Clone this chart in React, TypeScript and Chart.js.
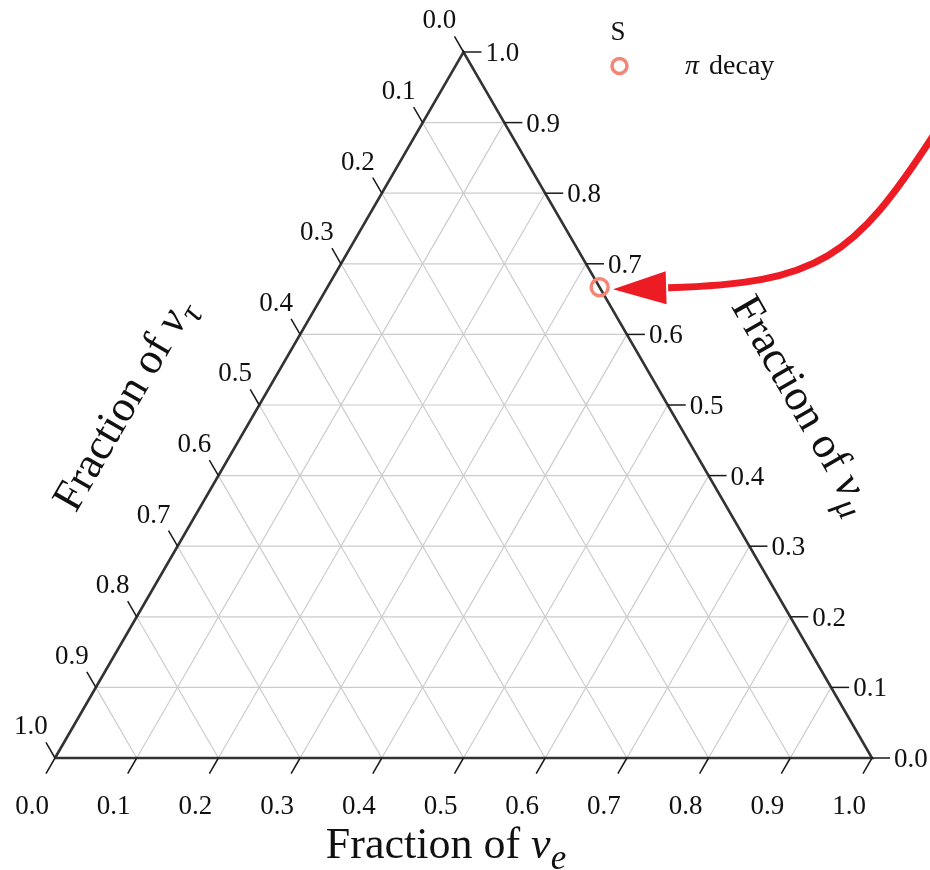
import React, { useEffect, useRef } from "react";
import { Chart, registerables } from "chart.js";

Chart.register(...registerables);

// ---- data ----
const tickValues = [0, 0.1, 0.2, 0.3, 0.4, 0.5, 0.6, 0.7, 0.8, 0.9, 1.0];
const tickLabels = ["0.0", "0.1", "0.2", "0.3", "0.4", "0.5", "0.6", "0.7", "0.8", "0.9", "1.0"];
const gridValues = [0.1, 0.2, 0.3, 0.4, 0.5, 0.6, 0.7, 0.8, 0.9];
const legendTitle = "S";
const seriesName = "decay";
const seriesSymbol = "π";
const pointNuE = [1 / 3];
const pointNuMu = [2 / 3];
const titleBottomSub = "e";
const titleLeftSub = "τ";
const titleRightSub = "μ";
// arrow path (cubic Bézier) in plot coordinates
const arrowX = [1.077, 0.978, 0.935, 0.748];
const arrowY = [0.885, 0.708, 0.672, 0.666];
const arrowTipX = 0.683;
const arrowTipY = 0.664;

const FONT = '"Liberation Serif", "DejaVu Serif", serif';
const SALMON = "rgb(243,134,118)";
const TICK_FONT = 27;
const TITLE_FONT = 44;

// ternary (nu_e, nu_mu) -> plot coordinates
const toXY = (e: number, mu: number) => ({ x: e + mu / 2, y: mu });

function drawRichTitle(ctx: CanvasRenderingContext2D, x: number, y: number, angle: number, sub: string, size: number) {
  ctx.save();
  ctx.translate(x, y);
  ctx.rotate(angle);
  const main = "Fraction of ";
  const fMain = `${size}px ${FONT}`;
  const fIt = `italic ${size}px ${FONT}`;
  const subSize = Math.round(size * 0.8);
  const fSub = `italic ${subSize}px ${FONT}`;
  ctx.font = fMain;
  const w1 = ctx.measureText(main).width;
  ctx.font = fIt;
  const w2 = ctx.measureText("ν").width;
  ctx.font = fSub;
  const w3 = ctx.measureText(sub).width;
  const total = w1 + w2 + w3;
  let cx = -total / 2;
  ctx.textBaseline = "alphabetic";
  ctx.textAlign = "left";
  ctx.fillStyle = "#111";
  ctx.font = fMain;
  ctx.fillText(main, cx, 0);
  cx += w1;
  ctx.font = fIt;
  ctx.fillText("ν", cx, 0);
  cx += w2;
  ctx.font = fSub;
  ctx.fillText(sub, cx, size * 0.24);
  ctx.restore();
}

const ternaryPlugin = {
  id: "ternaryDecor",
  afterDatasetsDraw(chart: any) {
    const ctx: CanvasRenderingContext2D = chart.ctx;
    const xs = chart.scales.x;
    const ys = chart.scales.y;
    const px = (p: { x: number; y: number }) => ({ x: xs.getPixelForValue(p.x), y: ys.getPixelForValue(p.y) });
    const norm = (a: { x: number; y: number }, b: { x: number; y: number }) => {
      const dx = b.x - a.x, dy = b.y - a.y;
      const l = Math.hypot(dx, dy);
      return { x: dx / l, y: dy / l };
    };
    const BL = px(toXY(0, 0));
    const BR = px(toXY(1, 0));
    const TOP = px(toXY(0, 1));
    const dirBottom = norm(TOP, BL); // down-left
    const dirLeft = norm(BR, TOP); // up-left
    const dirRight = { x: 1, y: 0 };
    const TL = 18;

    ctx.save();
    ctx.strokeStyle = "#1a1a1a";
    ctx.lineWidth = 1.5;
    ctx.fillStyle = "#111";
    ctx.font = `${TICK_FONT}px ${FONT}`;
    ctx.textBaseline = "alphabetic";

    tickValues.forEach((v, i) => {
      // bottom: nu_e
      const b = px(toXY(v, 0));
      ctx.beginPath();
      ctx.moveTo(b.x, b.y);
      ctx.lineTo(b.x + dirBottom.x * TL, b.y + dirBottom.y * TL);
      ctx.stroke();
      ctx.textAlign = "center";
      ctx.fillText(tickLabels[i], b.x - 23, b.y + 56);

      // left: nu_tau = v  -> nu_e = 0, nu_mu = 1 - v
      const l = px(toXY(0, 1 - v));
      const le = { x: l.x + dirLeft.x * TL, y: l.y + dirLeft.y * TL };
      ctx.beginPath();
      ctx.moveTo(l.x, l.y);
      ctx.lineTo(le.x, le.y);
      ctx.stroke();
      ctx.textAlign = "center";
      ctx.fillText(tickLabels[i], le.x - 15, le.y - 8);

      // right: nu_mu = v -> nu_tau = 0, nu_e = 1 - v
      const r = px(toXY(1 - v, v));
      const re = { x: r.x + dirRight.x * TL, y: r.y + dirRight.y * TL };
      ctx.beginPath();
      ctx.moveTo(r.x, r.y);
      ctx.lineTo(re.x, re.y);
      ctx.stroke();
      ctx.textAlign = "left";
      ctx.fillText(tickLabels[i], re.x + 4, re.y + 9);
    });

    // axis titles
    drawRichTitle(ctx, 446, 858, 0, titleBottomSub, TITLE_FONT);
    drawRichTitle(ctx, 135, 411, -Math.PI / 3, titleLeftSub, TITLE_FONT);
    drawRichTitle(ctx, 791, 411, Math.PI / 3, titleRightSub, TITLE_FONT);

    // legend
    ctx.fillStyle = "#111";
    ctx.font = `${TICK_FONT}px ${FONT}`;
    ctx.textAlign = "center";
    ctx.fillText(legendTitle, 618, 40);
    ctx.beginPath();
    ctx.arc(619.5, 66, 7.5, 0, Math.PI * 2);
    ctx.strokeStyle = SALMON;
    ctx.lineWidth = 3.5;
    ctx.stroke();
    ctx.textAlign = "left";
    ctx.fillStyle = "#111";
    ctx.font = `italic ${TICK_FONT + 1}px ${FONT}`;
    ctx.fillText(seriesSymbol, 685, 74);
    const wp = ctx.measureText(seriesSymbol + " ").width;
    ctx.font = `${TICK_FONT + 1}px ${FONT}`;
    ctx.fillText(seriesName, 685 + wp + 3, 74);

    // arrow
    const P = arrowX.map((x, i) => px({ x, y: arrowY[i] }));
    const tip = px({ x: arrowTipX, y: arrowTipY });
    ctx.strokeStyle = "rgb(237,28,36)";
    ctx.fillStyle = "rgb(237,28,36)";
    ctx.lineWidth = 7;
    ctx.lineCap = "butt";
    ctx.beginPath();
    ctx.moveTo(P[0].x, P[0].y);
    ctx.bezierCurveTo(P[1].x, P[1].y, P[2].x, P[2].y, P[3].x + 2, P[3].y);
    ctx.stroke();
    const hd = norm(tip, P[3]);
    const hw = 16.5;
    ctx.beginPath();
    ctx.moveTo(tip.x, tip.y);
    ctx.lineTo(P[3].x - hd.y * hw, P[3].y + hd.x * hw);
    ctx.lineTo(P[3].x + hd.y * hw, P[3].y - hd.x * hw);
    ctx.closePath();
    ctx.fill();

    ctx.restore();
  },
};

export default function App() {
  const ref = useRef<HTMLCanvasElement | null>(null);

  useEffect(() => {
    if (!ref.current) return;
    const datasets: any[] = [];

    // data point
    datasets.push({
      label: "π decay",
      data: pointNuE.map((e, i) => toXY(e, pointNuMu[i])),
      pointRadius: 8.5,
      pointBorderWidth: 3.5,
      pointBorderColor: SALMON,
      pointBackgroundColor: "rgba(0,0,0,0)",
      showLine: false,
      order: 0,
      clip: false,
    });

    // triangle border
    datasets.push({
      label: "frame",
      data: [toXY(0, 0), toXY(1, 0), toXY(0, 1), toXY(0, 0)],
      showLine: true,
      borderColor: "#333333",
      borderWidth: 2.6,
      pointRadius: 0,
      order: 1,
      clip: false,
    });

    // grid lines
    gridValues.forEach((v) => {
      const lines = [
        [toXY(0, v), toXY(1 - v, v)], // const nu_mu
        [toXY(v, 0), toXY(v, 1 - v)], // const nu_e
        [toXY(1 - v, 0), toXY(0, 1 - v)], // const nu_tau
      ];
      lines.forEach((seg) =>
        datasets.push({
          label: "grid",
          data: seg,
          showLine: true,
          borderColor: "#cccccc",
          borderWidth: 1.2,
          pointRadius: 0,
          order: 2,
          clip: false,
        })
      );
    });

    const chart = new Chart(ref.current, {
      type: "scatter",
      data: { datasets },
      options: {
        animation: false,
        responsive: false,
        events: [],
        layout: { padding: { left: 55, right: 58, top: 52, bottom: 112 } },
        scales: {
          x: { type: "linear", min: 0, max: 1, display: false },
          y: { type: "linear", min: 0, max: 1, display: false },
        },
        plugins: { legend: { display: false }, tooltip: { enabled: false }, title: { display: false } },
      },
      plugins: [ternaryPlugin],
    });
    return () => chart.destroy();
  }, []);

  return (
    <div style={{ position: "fixed", left: 0, top: 0, width: 930, height: 870, background: "#fff" }}>
      <canvas ref={ref} width={930} height={870} style={{ width: 930, height: 870, display: "block" }} />
    </div>
  );
}
